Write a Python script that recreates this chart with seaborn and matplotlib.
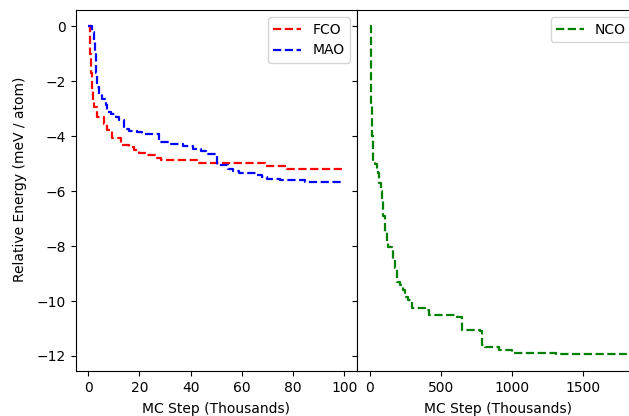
import matplotlib
matplotlib.use("Agg")
import matplotlib.pyplot as plt
import pandas as pd
import seaborn as sns

# Relative energy traces during Monte Carlo annealing (step starts, steps-post)
fco_step = [0, 0.5, 0.9, 1.3, 1.8, 2.2, 3.5, 6.0, 7.4, 9.4, 12.6, 15.9, 17.8, 20.0,
            22.4, 26.5, 28.3, 42.4, 69.0, 77.6, 100.0]
fco_energy = [0.0, -1.0, -1.7, -2.3, -2.7, -2.93, -3.3, -3.54, -3.78, -4.08, -4.33,
              -4.39, -4.5, -4.6, -4.69, -4.8, -4.87, -4.96, -5.1, -5.2, -5.2]

mao_step = [0, 1.5, 2.2, 2.6, 2.9, 3.2, 3.5, 4.2, 5.5, 6.8, 7.4, 9.0, 10.7, 12.0,
            13.8, 16.0, 19.0, 21.0, 27.5, 32.0, 37.0, 41.0, 44.0, 46.0, 50.3, 54.5,
            56.5, 59.0, 66.0, 68.0, 70.0, 75.0, 84.5, 100.0]
mao_energy = [0.0, -0.2, -0.5, -0.9, -1.3, -1.7, -2.2, -2.45, -2.65, -2.85, -3.1,
              -3.2, -3.3, -3.42, -3.72, -3.8, -3.85, -3.9, -4.22, -4.28, -4.35,
              -4.45, -4.55, -4.65, -5.06, -5.2, -5.28, -5.33, -5.4, -5.5, -5.56,
              -5.6, -5.66, -5.66]

nco_step = [0, 5, 8, 11, 14, 18, 22, 25, 35, 50, 60, 68, 76, 84, 95, 107, 120, 131,
            155, 165, 175, 190, 213, 235, 249, 270, 296, 390, 413, 614, 649, 778,
            790, 810, 907, 1002, 1307, 1800]
nco_energy = [0.0, -1.0, -2.0, -2.8, -3.4, -4.0, -4.5, -4.87, -5.0, -5.2, -5.35,
              -5.7, -6.0, -6.33, -6.9, -7.5, -7.9, -8.02, -8.08, -8.5, -8.8, -9.3,
              -9.42, -9.6, -9.84, -9.96, -10.27, -10.33, -10.5, -10.57, -11.05,
              -11.08, -11.6, -11.66, -11.78, -11.9, -11.93, -11.95]

fco = pd.DataFrame({"step": fco_step, "energy": fco_energy})
mao = pd.DataFrame({"step": mao_step, "energy": mao_energy})
nco = pd.DataFrame({"step": nco_step, "energy": nco_energy})

W, H, DPI = 629, 416, 100
fig = plt.figure(figsize=(W / DPI, H / DPI), dpi=DPI)
bottom = 1 - 371 / H
height = (371 - 10) / H
ax1 = fig.add_axes([75.5 / W, bottom, 281.5 / W, height])
ax2 = fig.add_axes([357 / W, bottom, 281.5 / W, height], sharey=ax1)

line_kw = dict(linestyle="--", drawstyle="steps-post", linewidth=1.6)
sns.lineplot(data=fco, x="step", y="energy", color="r", label="FCO", ax=ax1, **line_kw)
sns.lineplot(data=mao, x="step", y="energy", color="b", label="MAO", ax=ax1, **line_kw)
sns.lineplot(data=nco, x="step", y="energy", color="g", label="NCO", ax=ax2, **line_kw)

ax1.set_xlabel("MC Step (Thousands)", labelpad=5.5)
ax1.set_ylabel("Relative Energy (meV / atom)", y=0.53, labelpad=7)
ax1.set_xticks([0, 20, 40, 60, 80, 100])
ax1.legend(loc="upper right")

ax2.set_xlabel("MC Step (Thousands)", labelpad=5.5)
ax2.set_ylabel("")
ax2.set_xticks([0, 500, 1000, 1500])
ax2.tick_params(labelleft=False)
ax2.legend(loc="upper right")

fig.savefig("out.png", dpi=DPI)
